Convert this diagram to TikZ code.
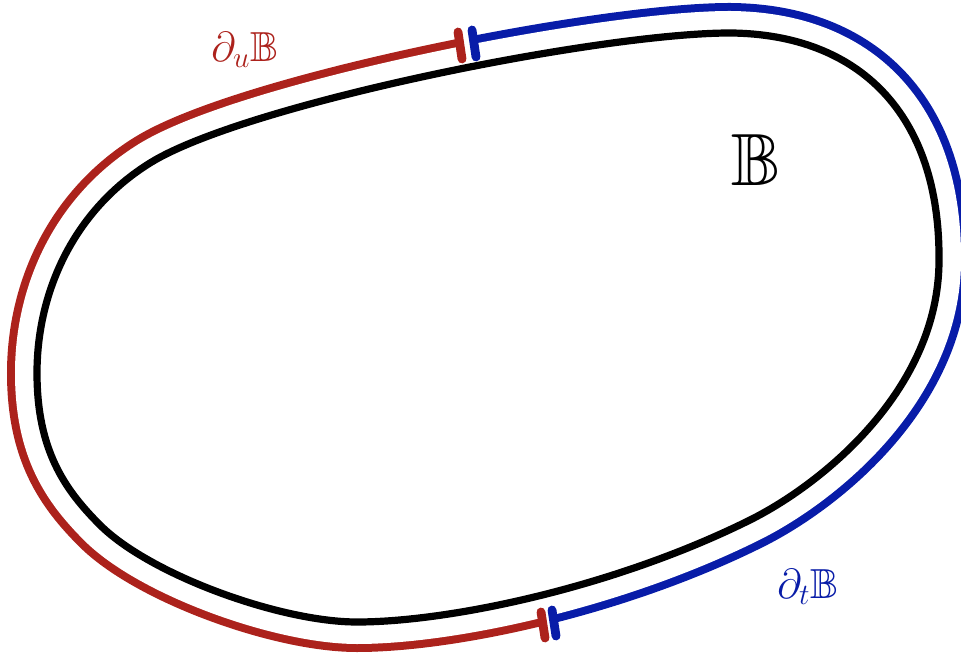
\RequirePackage{fix-cm}
\documentclass[tikz,border=0pt]{standalone}
\usepackage{amssymb}
\definecolor{bred}{RGB}{172,34,28}
\definecolor{bblue}{RGB}{8,28,168}
\begin{document}
\begin{tikzpicture}[x=0.5pt,y=-0.5pt,
  tickmark/.style={line width=4.4pt, line cap=round},
  lbl/.style={inner sep=0pt, font=\fontsize{21}{24}\selectfont}]
\def\regionpath{(730,33) .. controls (860,34) and (940,115) .. (939,260)
  .. controls (939,390) and (821.6,484.3) .. (750,520)
  .. controls (615.7,586.9) and (450,622) .. (357,622)
  .. controls (280,622) and (149.5,574.5) .. (100,525)
  .. controls (64.6,489.6) and (37,450) .. (37,373)
  .. controls (37,292) and (73.6,210.5) .. (150,163)
  .. controls (245,104) and (600,33) .. (730,33) -- cycle}
\useasboundingbox (0,0) rectangle (961,656);
\clip (0,0) rectangle (961,656);
% red part of the boundary
\begin{scope}
  \clip (-10,-10) -- (460,-10) -- (461,70) -- (543,600) -- (544,666) -- (-10,666) -- cycle;
  \draw[bred, line width=30pt] \regionpath;
\end{scope}
% blue part of the boundary
\begin{scope}
  \clip (474,-10) -- (980,-10) -- (980,666) -- (555,666) -- (554,600) -- (475,70) -- cycle;
  \draw[bblue, line width=30pt] \regionpath;
\end{scope}
\draw[white, line width=22pt] \regionpath;
\fill[white] \regionpath;
% region B
\draw[black, line width=3.6pt] \regionpath;
% end ticks
\coordinate (rt1) at (458,32); \coordinate (rt2) at (462,59);
\coordinate (bt1) at (472,30); \coordinate (bt2) at (476,57);
\coordinate (rb1) at (541,612); \coordinate (rb2) at (545,638);
\coordinate (bb1) at (552,610); \coordinate (bb2) at (556,636);
\draw[tickmark, bred] (rt1) -- (rt2);
\draw[tickmark, bblue] (bt1) -- (bt2);
\draw[tickmark, bred] (rb1) -- (rb2);
\draw[tickmark, bblue] (bb1) -- (bb2);
% labels
\node[lbl, text=bred] (lu) at (245,50) {$\partial_u\mathbb{B}$};
\node[lbl, text=bblue] (lt) at (808,587) {$\partial_t\mathbb{B}$};
\node[inner sep=0pt, font=\fontsize{37}{40}\selectfont] (lb) at (756,160) {$\mathbb{B}$};
\end{tikzpicture}
\end{document}
